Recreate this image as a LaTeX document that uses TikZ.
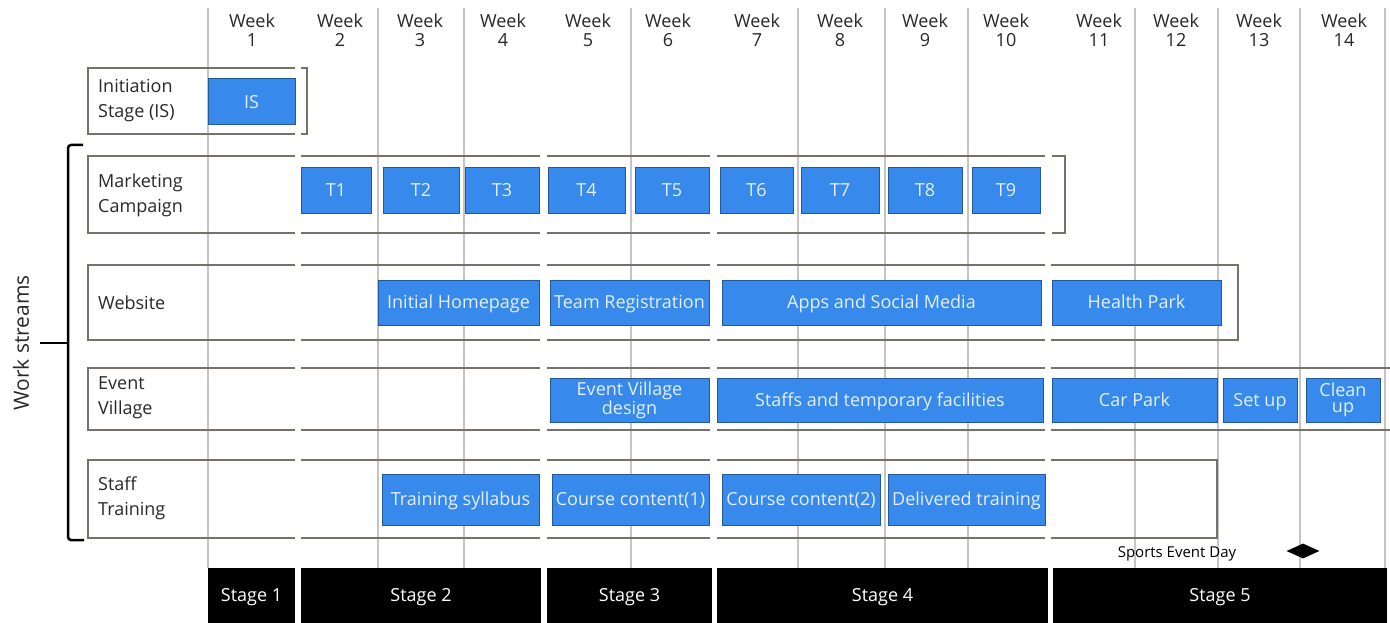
\documentclass[tikz,border=0pt]{standalone}
\usepackage{fontspec}
\setmainfont{Open Sans}
\usetikzlibrary{shapes.geometric}

\definecolor{barblue}{RGB}{55,137,235}
\definecolor{bartext}{RGB}{228,240,255}
\definecolor{gridgray}{RGB}{196,196,196}
\definecolor{rowgray}{RGB}{118,114,106}
\definecolor{labelgray}{RGB}{40,40,40}

% a blue task bar: [options] name, left, right, top, bottom, text
\newcommand{\ganttbar}[7][]{%
  \node[taskbar, minimum width={(#4-#3)*1pt}, minimum height={(#6-#5)*1pt}, #1]
    (#2) at ({(#3+#4)/2},{(#5+#6)/2}) {#7};}
% a black stage box: name, left, right, text
\newcommand{\stagebox}[4]{%
  \node[stagecell, minimum width={(#3-#2)*1pt}]
    (#1) at ({(#2+#3)/2},595.5) {#4};}
% the four framed stretches shared by every work stream row
\newcommand{\rowframe}[2]{%
  \draw[rowline] (295,#1) -- (88,#1) -- (88,#2) -- (295,#2);
  \draw[rowline] (301,#1) -- (540,#1) (301,#2) -- (540,#2);
  \draw[rowline] (547,#1) -- (710,#1) (547,#2) -- (710,#2);
  \draw[rowline] (717,#1) -- (1045,#1) (717,#2) -- (1045,#2);}

\begin{document}
\begin{tikzpicture}[x=1pt,y=-1pt,
  weekline/.style={draw=gridgray,line width=1.5pt},
  rowline/.style={draw=rowgray,line width=2.2pt},
  capcentred/.style={text height=15pt,text depth=2.1pt},
  taskbar/.style={fill=barblue,draw=barblue!65!black,line width=1pt,
    text=bartext,font=\fontsize{18}{16}\selectfont,align=center,inner sep=0pt,
    capcentred},
  twoline/.style={text height=,text depth=},
  stagecell/.style={fill=black,text=white,font=\fontsize{18}{20}\selectfont,
    minimum height=55.5pt,inner sep=0pt,capcentred},
  weeklabel/.style={anchor=north,align=center,inner sep=0pt,text=labelgray,
    font=\fontsize{18}{19}\selectfont},
  rowlabel/.style={anchor=west,align=left,inner sep=0pt,text=labelgray,
    font=\fontsize{18}{25}\selectfont},
  brace/.style={draw=black,line width=2.5pt}]

\useasboundingbox (0,0) rectangle (1390,623);
\fill[white] (0,0) rectangle (1390,623);

% week grid
\foreach \x in {208,378,464,631,798,885,968,1135,1218,1300,1385}
  \draw[weekline] (\x,8) -- (\x,568);

% week headings
\foreach \n/\x in {1/252,2/340,3/420,4/503,5/588,6/668,7/757,8/840,
                   9/925,10/1006,11/1099,12/1176,13/1259,14/1344}
  \node[weeklabel] (week\n) at (\x,14) {Week\\\n};

% row frames
\draw[rowline] (295,68) -- (88,68) -- (88,134) -- (295,134);
\draw[rowline] (301,68) -- (307,68) -- (307,134) -- (301,134);

\rowframe{156}{233}
\draw[rowline] (1052,156) -- (1065,156) -- (1065,233) -- (1052,233);

\rowframe{265}{340}
\draw[rowline] (1051,265) -- (1238,265) -- (1238,340) -- (1051,340);

\rowframe{368}{430}
\draw[rowline] (1051,368) -- (1390,368) (1051,430) -- (1390,430);

\rowframe{460}{538}
\draw[rowline] (1051,460) -- (1217,460) -- (1217,538) -- (1051,538);

% row labels
\node[rowlabel] (lblIS)   at (98,101)   {Initiation\\Stage (IS)};
\node[rowlabel] (lblMC)   at (98,195)   {Marketing\\Campaign};
\node[rowlabel] (lblWeb)  at (98,303)   {Website};
\node[rowlabel] (lblEV)   at (98,398)   {Event\\Village};
\node[rowlabel] (lblST)   at (98,498)   {Staff\\Training};

% work streams brace
\draw[brace,rounded corners=3pt] (83,145) -- (68,145) -- (68,540) -- (84,540);
\draw[brace] (68,343) -- (40,343);
\node[rotate=90,inner sep=0pt,text=labelgray,font=\fontsize{21}{22}\selectfont]
  (streams) at (21,343) {Work streams};

% initiation
\ganttbar{IS}{208}{295}{79}{125}{IS}

% marketing campaign
\ganttbar{T1}{301}{371}{168}{213}{T1}
\ganttbar{T2}{383}{459}{168}{213}{T2}
\ganttbar{T3}{465}{539}{168}{213}{T3}
\ganttbar{T4}{548}{625}{168}{213}{T4}
\ganttbar{T5}{635}{709}{168}{213}{T5}
\ganttbar{T6}{720}{793}{168}{213}{T6}
\ganttbar{T7}{801}{879}{168}{213}{T7}
\ganttbar{T8}{888}{962}{168}{213}{T8}
\ganttbar{T9}{972}{1040}{168}{213}{T9}

% website
\ganttbar{home}{378}{539}{280}{325}{Initial Homepage}
\ganttbar{reg}{550}{709}{280}{325}{Team Registration}
\ganttbar{apps}{722}{1041}{280}{325}{Apps and Social Media}
\ganttbar{health}{1052}{1221}{280}{325}{Health Park}

% event village
\ganttbar[twoline]{evdesign}{550}{709}{378}{422}{Event Village\\design}
\ganttbar{staffs}{717}{1043}{378}{422}{Staffs and temporary facilities}
\ganttbar{carpark}{1052}{1217}{378}{422}{Car Park}
\ganttbar{setup}{1223}{1297}{378}{422}{Set up}
\ganttbar[twoline]{cleanup}{1306}{1380}{378}{422}{Clean\\up}

% staff training
\ganttbar{syllabus}{382}{539}{474}{525}{Training syllabus}
\ganttbar{course1}{552}{709}{474}{525}{Course content(1)}
\ganttbar{course2}{722}{880}{474}{525}{Course content(2)}
\ganttbar{delivered}{888}{1045}{474}{525}{Delivered training}

% sports event day marker
\node[inner sep=0pt,text=black,font=\fontsize{15}{16}\selectfont]
  (eventday) at (1177,554) {Sports Event Day};
\node[diamond,fill=black,minimum width=33pt,minimum height=15pt,inner sep=0pt]
  (daymark) at (1303,551) {};

% stages
\stagebox{stage1}{208}{295}{Stage 1}
\stagebox{stage2}{301}{541}{Stage 2}
\stagebox{stage3}{547}{712}{Stage 3}
\stagebox{stage4}{717}{1048}{Stage 4}
\stagebox{stage5}{1053}{1387}{Stage 5}

\end{tikzpicture}
\end{document}
